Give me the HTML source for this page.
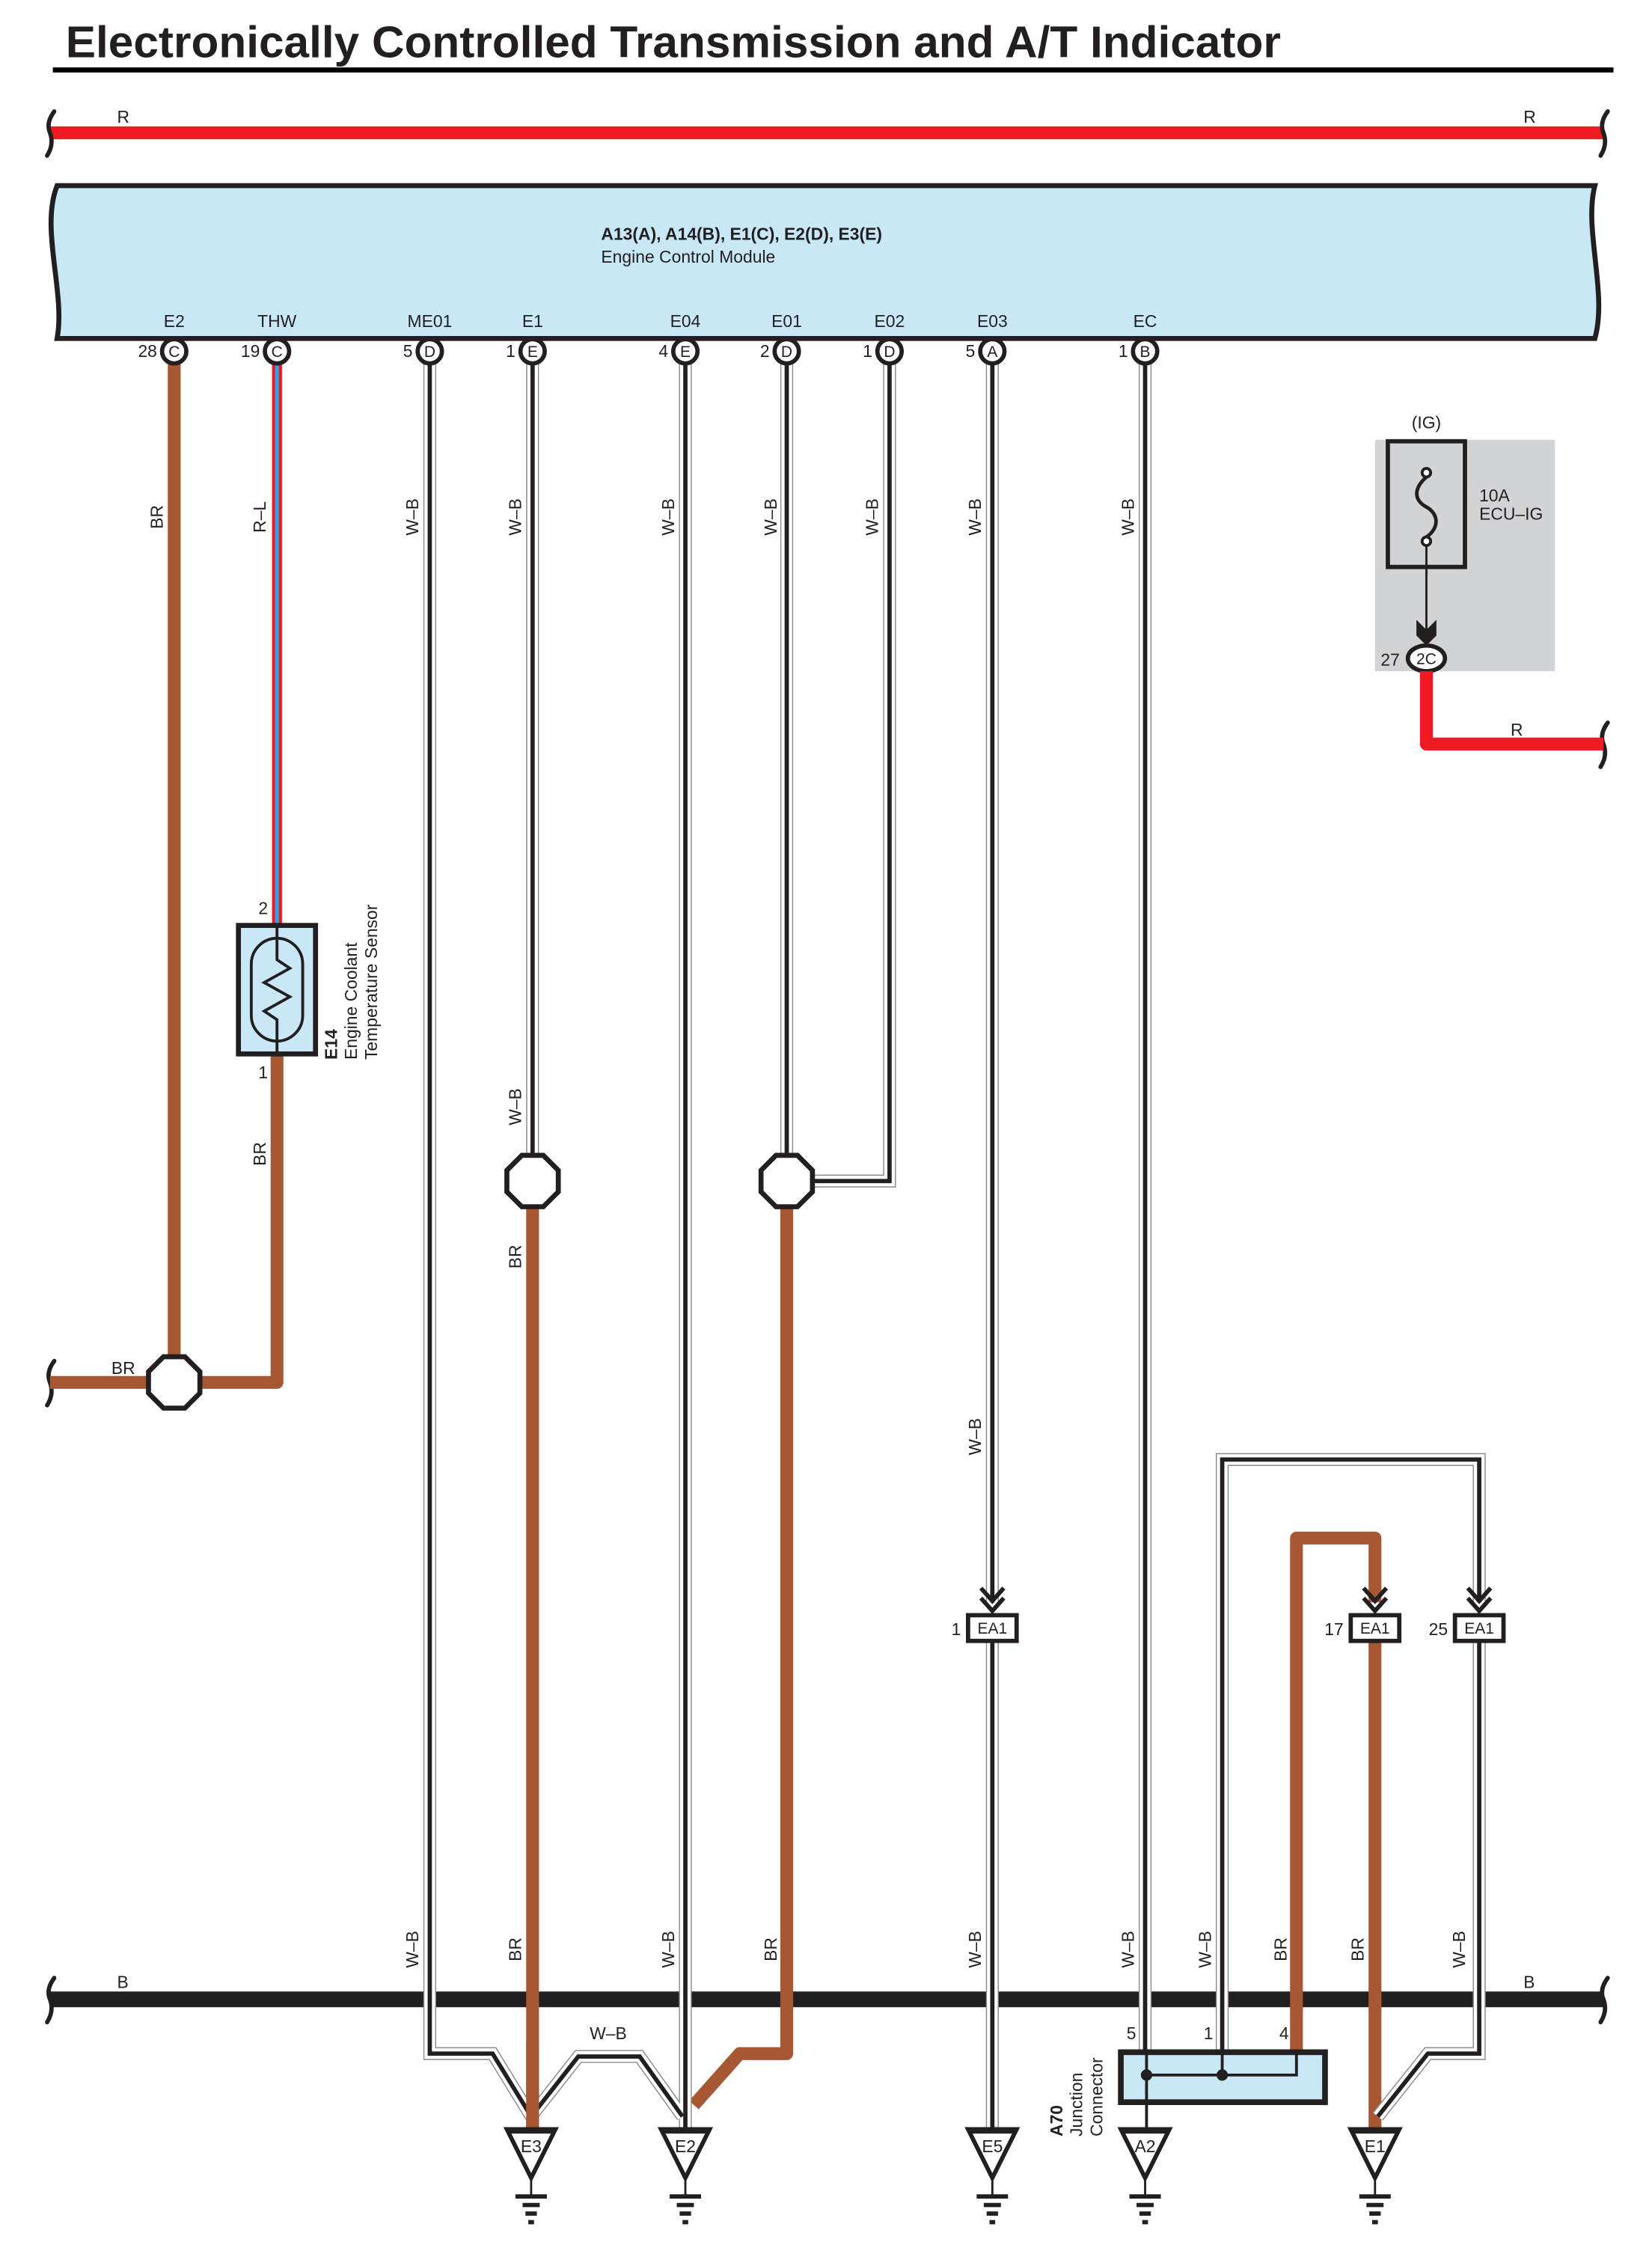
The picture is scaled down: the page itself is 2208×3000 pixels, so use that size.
<!DOCTYPE html>
<html><head><meta charset="utf-8"><style>
html,body{margin:0;padding:0;background:#fff;}
svg{display:block;}
text{font-family:"Liberation Sans",sans-serif;fill:#231f20;}
</style></head><body>
<svg width="2208" height="3000" viewBox="0 0 1157 1572" preserveAspectRatio="none" xmlns="http://www.w3.org/2000/svg">
<rect width="1157" height="1572" fill="#fff"/>
<!-- title -->
<text x="46" y="40" font-size="31" font-weight="bold" textLength="851" lengthAdjust="spacingAndGlyphs">Electronically Controlled Transmission and A/T Indicator</text>
<line x1="37" y1="49" x2="1130" y2="49" stroke="#000" stroke-width="3.5"/>

<!-- top red bus -->
<line x1="35" y1="93" x2="1123" y2="93" stroke="#ed1c24" stroke-width="9"/>
<g fill="none" stroke="#231f20" stroke-width="3" stroke-linecap="round">
<path d="M38,78 q-6,8 -3,15 q3,8 -2,16"/>
<path d="M1126,78 q-6,8 -3,15 q3,8 -2,16"/>
<path d="M38,953 q-6,8 -3,15 q3,8 -2,16"/>
<path d="M38,1385 q-6,8 -3,15 q3,8 -2,16"/>
<path d="M1126,1385 q-6,8 -3,15 q3,8 -2,16"/>
<path d="M1126,506 q-6,8 -3,15 q3,8 -2,16"/>
</g>
<text x="82" y="86" font-size="12">R</text>
<text x="1067" y="86" font-size="12">R</text>

<!-- ECM -->
<path d="M40,130 H1117 C1109,160 1126,205 1117,237 H40 C46,205 28,160 40,130 Z" fill="#c8e8f8" stroke="#231f20" stroke-width="3.5"/>
<text x="421" y="168" font-size="12" font-weight="bold">A13(A), A14(B), E1(C), E2(D), E3(E)</text>
<text x="421" y="184" font-size="12">Engine Control Module</text>
<g font-size="12" text-anchor="middle">
<text x="122" y="229">E2</text><text x="194" y="229">THW</text><text x="301" y="229">ME01</text>
<text x="373" y="229">E1</text><text x="480" y="229">E04</text><text x="551" y="229">E01</text>
<text x="623" y="229">E02</text><text x="695" y="229">E03</text><text x="802" y="229">EC</text>
</g>

<!-- black bottom bus -->
<line x1="35" y1="1400" x2="1123" y2="1400" stroke="#231f20" stroke-width="11"/>
<text x="82" y="1392" font-size="12">B</text>
<text x="1067" y="1392" font-size="12">B</text>

<!-- BR wires -->
<g fill="none" stroke="#a65835" stroke-width="9" stroke-linejoin="round">
<path d="M122,255 V950"/>
<path d="M35,968 H104"/>
<path d="M140,968 H194 V738"/>
<path d="M373,845 V1490"/>
<path d="M551,845 V1438 H518 L486,1474"/>
<path d="M908,1437 V1077 H963 V1122"/>
<path d="M963,1150 V1490"/>
</g>
<!-- THW R-L -->
<line x1="194" y1="255" x2="194" y2="648" stroke="#ed1c24" stroke-width="7"/>
<line x1="194" y1="255" x2="194" y2="648" stroke="#29abe2" stroke-width="2.5"/>

<!-- W-B wires -->
<g fill="none" stroke-linejoin="miter">
<g stroke="#8a8a8a" stroke-width="9">
<path d="M301,255 V1438 H345 L372,1482"/>
<path d="M372,1482 L405,1440 H448 L478,1482"/>
<path d="M480,255 V1490"/><path d="M373,255 V809"/><path d="M551,255 V809"/>
<path d="M623,255 V827 H569"/><path d="M695,255 V1122"/><path d="M695,1150 V1490"/>
<path d="M802,255 V1437"/><path d="M856,1437 V1022 H1036 V1122"/>
<path d="M1036,1150 V1438 H1000 L965,1482"/>
</g>
<g stroke="#fff" stroke-width="7.5">
<path d="M301,255 V1438 H345 L372,1482"/>
<path d="M372,1482 L405,1440 H448 L478,1482"/>
<path d="M480,255 V1490"/><path d="M373,255 V809"/><path d="M551,255 V809"/>
<path d="M623,255 V827 H569"/><path d="M695,255 V1122"/><path d="M695,1150 V1490"/>
<path d="M802,255 V1437"/><path d="M856,1437 V1022 H1036 V1122"/>
<path d="M1036,1150 V1438 H1000 L965,1482"/>
</g>
<g stroke="#231f20" stroke-width="3">
<path d="M301,255 V1438 H345 L372,1482"/>
<path d="M372,1482 L405,1440 H448 L478,1482"/>
<path d="M480,255 V1490"/><path d="M373,255 V809"/><path d="M551,255 V809"/>
<path d="M623,255 V827 H569"/><path d="M695,255 V1122"/><path d="M695,1150 V1490"/>
<path d="M802,255 V1437"/><path d="M856,1437 V1022 H1036 V1122"/>
<path d="M1036,1150 V1438 H1000 L965,1482"/>
</g>
</g>
<!-- redraw BR over E3 to stay on top -->
<line x1="373" y1="1430" x2="373" y2="1490" stroke="#a65835" stroke-width="9"/>

<!-- pins -->
<g fill="#fff" stroke="#231f20" stroke-width="3">
<circle cx="122" cy="246" r="8.5"/><circle cx="194" cy="246" r="8.5"/><circle cx="301" cy="246" r="8.5"/>
<circle cx="373" cy="246" r="8.5"/><circle cx="480" cy="246" r="8.5"/><circle cx="551" cy="246" r="8.5"/>
<circle cx="623" cy="246" r="8.5"/><circle cx="695" cy="246" r="8.5"/><circle cx="802" cy="246" r="8.5"/>
</g>
<g font-size="11" text-anchor="middle">
<text x="122" y="250">C</text><text x="194" y="250">C</text><text x="301" y="250">D</text>
<text x="373" y="250">E</text><text x="480" y="250">E</text><text x="551" y="250">D</text>
<text x="623" y="250">D</text><text x="695" y="250">A</text><text x="802" y="250">B</text>
</g>
<g font-size="12" text-anchor="end">
<text x="110" y="250">28</text><text x="182" y="250">19</text><text x="289" y="250">5</text>
<text x="361" y="250">1</text><text x="468" y="250">4</text><text x="539" y="250">2</text>
<text x="611" y="250">1</text><text x="683" y="250">5</text><text x="790" y="250">1</text>
</g>

<!-- splices -->
<g fill="#fff" stroke="#231f20" stroke-width="3.5">
<polygon points="114.5,950 129.5,950 140,960.5 140,975.5 129.5,986 114.5,986 104,975.5 104,960.5"/>
<polygon points="365.5,809 380.5,809 391,819.5 391,834.5 380.5,845 365.5,845 355,834.5 355,819.5"/>
<polygon points="543.5,809 558.5,809 569,819.5 569,834.5 558.5,845 543.5,845 533,834.5 533,819.5"/>
</g>
<text x="78" y="962" font-size="12">BR</text>

<!-- sensor -->
<rect x="167" y="648" width="54" height="90" fill="#c8e8f8" stroke="#231f20" stroke-width="3.5"/>
<rect x="176" y="657" width="36" height="72" rx="18" fill="none" stroke="#231f20" stroke-width="2"/>
<path d="M194,648 V672 L203,678 L185,688 L203,698 L185,708 L194,714 V738" fill="none" stroke="#231f20" stroke-width="2"/>
<text x="181" y="640" font-size="12">2</text>
<text x="181" y="755" font-size="12">1</text>
<g transform="translate(236,742) rotate(-90)"><text font-size="12" font-weight="bold">E14</text></g>
<g transform="translate(250,742) rotate(-90)"><text font-size="12">Engine Coolant</text></g>
<g transform="translate(264,742) rotate(-90)"><text font-size="12">Temperature Sensor</text></g>

<!-- fuse -->
<rect x="963" y="308" width="126" height="162" fill="#d2d3d5"/>
<rect x="972" y="309" width="54" height="88" fill="none" stroke="#231f20" stroke-width="3"/>
<circle cx="999" cy="331" r="3" fill="#fff" stroke="#231f20" stroke-width="2"/>
<path d="M999,334 C990,342 990,350 999,355 C1008,360 1008,370 999,376" fill="none" stroke="#231f20" stroke-width="2.5"/>
<circle cx="999" cy="379" r="3" fill="#fff" stroke="#231f20" stroke-width="2"/>
<line x1="999" y1="382" x2="999" y2="442" stroke="#231f20" stroke-width="1.5"/>
<polygon points="992,434 999,441 1006,434 1006,445 999,452 992,445" fill="#231f20"/>
<ellipse cx="999" cy="461" rx="13" ry="9" fill="#fff" stroke="#231f20" stroke-width="3"/>
<text x="999" y="465" font-size="11" text-anchor="middle">2C</text>
<text x="967" y="466" font-size="12">27</text>
<text x="999" y="300" font-size="12" text-anchor="middle">(IG)</text>
<text x="1036" y="351" font-size="12">10A</text>
<text x="1036" y="364" font-size="12">ECU–IG</text>
<path d="M999,470 V521 H1123" fill="none" stroke="#ed1c24" stroke-width="9" stroke-linejoin="round"/>
<text x="1058" y="515" font-size="12">R</text>

<!-- EA1 arrows/boxes -->
<g fill="none" stroke="#231f20" stroke-width="3">
<path d="M687,1112 L695,1121 L703,1112 M687,1119 L695,1128 L703,1119"/>
<path d="M955,1112 L963,1121 L971,1112 M955,1119 L963,1128 L971,1119"/>
<path d="M1028,1112 L1036,1121 L1044,1112 M1028,1119 L1036,1128 L1044,1119"/>
</g>
<g fill="#fff" stroke="#231f20" stroke-width="3">
<rect x="678" y="1131" width="34" height="18"/>
<rect x="946" y="1131" width="34" height="18"/>
<rect x="1019" y="1131" width="34" height="18"/>
</g>
<g font-size="11" text-anchor="middle">
<text x="695" y="1144">EA1</text><text x="963" y="1144">EA1</text><text x="1036" y="1144">EA1</text>
</g>
<g font-size="12" text-anchor="end">
<text x="673" y="1145">1</text><text x="941" y="1145">17</text><text x="1014" y="1145">25</text>
</g>

<!-- junction connector -->
<rect x="785" y="1437" width="143" height="35" fill="#c8e8f8" stroke="#231f20" stroke-width="4"/>
<path d="M803,1453 H908 V1437 M856,1437 V1453" fill="none" stroke="#231f20" stroke-width="2"/>
<line x1="803" y1="1437" x2="803" y2="1490" stroke="#231f20" stroke-width="2"/>
<circle cx="803" cy="1453" r="4" fill="#231f20"/><circle cx="856" cy="1453" r="4" fill="#231f20"/>
<text x="789" y="1428" font-size="12">5</text>
<text x="843" y="1428" font-size="12">1</text>
<text x="896" y="1428" font-size="12">4</text>
<g transform="translate(744,1496) rotate(-90)"><text font-size="12" font-weight="bold">A70</text></g>
<g transform="translate(758,1496) rotate(-90)"><text font-size="12">Junction</text></g>
<g transform="translate(772,1496) rotate(-90)"><text font-size="12">Connector</text></g>

<!-- grounds -->
<g fill="#fff" stroke="#231f20" stroke-width="3">
<polygon points="355,1491 389,1491 372,1525"/>
<polygon points="463,1491 497,1491 480,1525"/>
<polygon points="678,1491 712,1491 695,1525"/>
<polygon points="785,1491 819,1491 802,1525"/>
<polygon points="946,1491 980,1491 963,1525"/>
</g>
<g stroke="#231f20" stroke-width="4">
<path d="M355,1492 H389 M463,1492 H497 M678,1492 H712 M785,1492 H819 M946,1492 H980"/>
</g>
<g stroke="#231f20" stroke-width="1.5">
<path d="M372,1525 V1538 M480,1525 V1538 M695,1525 V1538 M802,1525 V1538 M963,1525 V1538"/>
</g>
<g stroke="#231f20" stroke-width="3">
<path d="M361,1538 H383 M366,1544 H378 M368,1550 H376 M370,1556 H374"/>
<path d="M469,1538 H491 M474,1544 H486 M476,1550 H484 M478,1556 H482"/>
<path d="M684,1538 H706 M689,1544 H701 M691,1550 H699 M693,1556 H697"/>
<path d="M791,1538 H813 M796,1544 H808 M798,1550 H806 M800,1556 H804"/>
<path d="M952,1538 H974 M957,1544 H969 M959,1550 H967 M961,1556 H965"/>
</g>
<g font-size="12" text-anchor="middle">
<text x="372" y="1507">E3</text><text x="480" y="1507">E2</text><text x="695" y="1507">E5</text>
<text x="802" y="1507">A2</text><text x="963" y="1507">E1</text>
</g>
<text x="426" y="1428" font-size="12" text-anchor="middle">W–B</text>

<!-- rotated wire labels -->
<g font-size="12" text-anchor="middle">
<g transform="translate(114,362) rotate(-90)"><text>BR</text></g>
<g transform="translate(186,362) rotate(-90)"><text>R–L</text></g>
<g transform="translate(293,362) rotate(-90)"><text>W–B</text></g>
<g transform="translate(365,362) rotate(-90)"><text>W–B</text></g>
<g transform="translate(472,362) rotate(-90)"><text>W–B</text></g>
<g transform="translate(544,362) rotate(-90)"><text>W–B</text></g>
<g transform="translate(615,362) rotate(-90)"><text>W–B</text></g>
<g transform="translate(687,362) rotate(-90)"><text>W–B</text></g>
<g transform="translate(794,362) rotate(-90)"><text>W–B</text></g>
<g transform="translate(365,775) rotate(-90)"><text>W–B</text></g>
<g transform="translate(186,808) rotate(-90)"><text>BR</text></g>
<g transform="translate(365,880) rotate(-90)"><text>BR</text></g>
<g transform="translate(687,1006) rotate(-90)"><text>W–B</text></g>
<g transform="translate(293,1365) rotate(-90)"><text>W–B</text></g>
<g transform="translate(365,1365) rotate(-90)"><text>BR</text></g>
<g transform="translate(472,1365) rotate(-90)"><text>W–B</text></g>
<g transform="translate(544,1365) rotate(-90)"><text>BR</text></g>
<g transform="translate(687,1365) rotate(-90)"><text>W–B</text></g>
<g transform="translate(794,1365) rotate(-90)"><text>W–B</text></g>
<g transform="translate(848,1365) rotate(-90)"><text>W–B</text></g>
<g transform="translate(901,1365) rotate(-90)"><text>BR</text></g>
<g transform="translate(955,1365) rotate(-90)"><text>BR</text></g>
<g transform="translate(1026,1365) rotate(-90)"><text>W–B</text></g>
</g>
</svg>
</body></html>
